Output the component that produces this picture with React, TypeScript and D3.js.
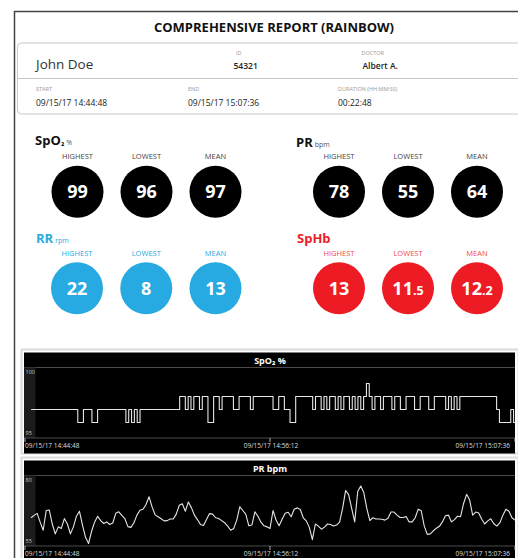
import React from "react";
import * as d3 from "d3";

// stat tiles
const statLabels = ["HIGHEST", "LOWEST", "MEAN"];
const spo2Stats = ["99", "96", "97"];
const prStats = ["78", "55", "64"];
const rrStats = ["22", "8", "13"];
const sphbStats = ["13", "11.5", "12.2"];

// header
const patientName = "John Doe";
const patientId = "54321";
const doctorName = "Albert A.";
const startTime = "09/15/17 14:44:48";
const endTime = "09/15/17 15:07:36";
const durationText = "00:22:48";

// trend charts
const durationSec = 1368;
const timeTickLabels = ["09/15/17 14:44:48", "09/15/17 14:56:12", "09/15/17 15:07:36"];
const timeTickSec = [0, 684, 1368];
const firstSampleSec = 17;

const spo2Domain = [95, 100];
const spo2Values = [
  97, 97, 97, 97, 97, 97, 97, 97, 97, 97, 97, 97, 97, 97, 97, 97, 97,
  96, 96, 97, 97, 97, 96, 96,
  97, 97, 97, 97, 97, 97, 97, 97, 97, 97,
  96, 97, 96, 97, 96,
  97, 97, 97, 97, 97, 97, 97, 97, 97, 97, 97, 97, 97, 97,
  98, 98, 97, 98, 97, 98, 98, 97, 98, 98, 96, 96, 98, 98, 97,
  98, 98, 98, 98, 97, 97, 98, 98, 98, 98, 97,
  98, 98, 98, 98, 98, 98, 98, 97, 97, 98, 98, 97, 97, 96, 96,
  98, 98, 98, 98, 98,
  98, 97, 98, 98, 97, 98, 97, 98, 98, 97, 98, 97, 98, 98, 97, 98, 97, 98, 97, 98,
  99,
  98, 97, 98, 98, 97, 98, 98, 98, 97, 98, 98, 97, 97, 98, 98, 98, 97, 97, 98, 98,
  98, 97, 97, 98, 98, 98, 98, 97, 98, 97, 98, 97, 98,
  98, 98, 98, 98, 98, 98, 98, 98, 98, 98, 98, 98,
  97, 96, 96, 96, 96, 97, 96,
];

const prDomain = [55, 80];
const prValues = [
  64.9, 65.8, 66.6, 63.2, 60.1, 67.7, 67.9, 62.5, 58.7, 61.4,
  60.8, 64.6, 62.5, 58.7, 61.4, 65.5, 67.4, 62.1, 57.4, 55.0,
  59.7, 63.2, 65.5, 63.8, 62.7, 63.3, 62.3, 62.9, 66.6, 67.2,
  65.8, 64.6, 61.5, 61.2, 63.0, 65.9, 67.8, 68.2, 70.0, 73.0,
  69.1, 66.0, 65.3, 64.5, 63.7, 63.8, 64.4, 64.4, 66.3, 69.7,
  70.3, 67.4, 71.0, 68.8, 65.9, 64.2, 62.3, 61.9, 64.2, 66.5,
  66.3, 64.9, 64.6, 63.8, 63.0, 61.7, 60.1, 60.8, 64.0, 69.1,
  67.7, 66.2, 61.8, 62.1, 67.2, 65.5, 63.2, 61.8, 61.4, 60.8,
  67.7, 64.0, 61.8, 64.3, 66.6, 67.0, 65.3, 68.2, 68.7, 68.1,
  64.9, 63.7, 61.2, 56.5, 62.5, 61.7, 60.5, 61.3, 62.5, 62.3,
  61.7, 62.1, 63.2, 68.5, 75.4, 73.8, 68.5, 63.3, 75.0, 77.1,
  74.6, 68.5, 63.8, 64.9, 64.4, 64.4, 64.3, 64.0, 64.7, 67.1,
  67.1, 65.9, 65.0, 65.0, 65.4, 63.3, 63.3, 64.9, 68.2, 67.6,
  61.7, 58.5, 58.7, 59.9, 60.9, 61.6, 63.3, 65.7, 65.9, 63.3,
  64.2, 65.5, 65.3, 70.4, 73.9, 71.7, 65.9, 67.1, 66.7, 64.3,
  62.5, 63.7, 64.5, 62.6, 61.7, 63.0, 65.9, 68.2, 67.4, 64.9,
  64.0,
];

const FONT = "'Open Sans', 'Noto Sans', sans-serif";
const BLUE = "#27aae1";
const RED = "#ed1c24";

type Group = {
  title: string;
  sub?: string;
  unit: string;
  stats: string[];
  color: string;
  labelColor: string;
  titleX: number;
  titleY: number;
  labelY: number;
  cy: number;
  xs: [number, number];
};

const groups: Group[] = [
  { title: "SpO", sub: "₂", unit: "%", stats: spo2Stats, color: "#000", labelColor: "#444", titleX: 35, titleY: 145, labelY: 159, cy: 191.7, xs: [77.5, 215.5] },
  { title: "PR", unit: "bpm", stats: prStats, color: "#000", labelColor: "#444", titleX: 296, titleY: 146.5, labelY: 159, cy: 191.7, xs: [339, 477] },
  { title: "RR", unit: "rpm", stats: rrStats, color: BLUE, labelColor: BLUE, titleX: 36, titleY: 243, labelY: 256, cy: 288.3, xs: [77, 215.5] },
  { title: "SpHb", unit: "", stats: sphbStats, color: RED, labelColor: "#ef4a50", titleX: 297, titleY: 243, labelY: 256, cy: 288.3, xs: [339, 477] },
];

const StatGroup = ({ g }: { g: Group }) => {
  const x = d3.scalePoint<string>().domain(statLabels).range(g.xs);
  return (
    <g fontFamily={FONT}>
      <text x={g.titleX} y={g.titleY} fill={g.color === "#000" ? "#111" : g.color} fontWeight="bold" fontSize={13}>
        {g.title}
        {g.sub && <tspan fontSize={8} dx={0.5}>{g.sub}</tspan>}
        {g.unit && (
          <tspan fontSize={7} fontWeight="normal" fill={g.color === "#000" ? "#555" : g.color} dx={2}>
            {g.unit}
          </tspan>
        )}
      </text>
      {statLabels.map((lab, i) => {
        const v = g.stats[i];
        const [whole, dec] = v.split(".");
        return (
          <g key={lab}>
            <text x={x(lab)} y={g.labelY} textAnchor="middle" fontSize={7.5} fill={g.labelColor}>
              {lab}
            </text>
            <circle cx={x(lab)} cy={g.cy} r={26} fill={g.color} />
            <text x={x(lab)} y={g.cy + 6.5} textAnchor="middle" fontSize={18} fontWeight="bold" fill="#fff">
              {whole}
              {dec && <tspan fontSize={12.5}>{"." + dec}</tspan>}
            </text>
          </g>
        );
      })}
    </g>
  );
};

type Panel = {
  title: string;
  top: number;
  values: number[];
  domain: number[];
  curve: d3.CurveFactory;
};

const panels: Panel[] = [
  { title: "SpO₂ %", top: 352.5, values: spo2Values, domain: spo2Domain, curve: d3.curveStep },
  { title: "PR bpm", top: 460.5, values: prValues, domain: prDomain, curve: d3.curveLinear },
];

const TrendPanel = ({ p }: { p: Panel }) => {
  const sep = p.top + 15;
  const bottom = p.top + 85.5;
  const x = d3.scaleLinear().domain([0, durationSec]).range([25, 515]);
  const y = d3.scaleLinear().domain(p.domain).range([bottom - 2.5, sep + 3]);
  const step = (durationSec - firstSampleSec) / (p.values.length - 1);
  const line = d3
    .line<number>()
    .x((d, i) => x(firstSampleSec + i * step))
    .y((d) => y(d))
    .curve(p.curve);
  return (
    <g fontFamily={FONT}>
      <rect x={21.5} y={p.top - 3} width={497} height={104} fill="none" stroke="#dadada" strokeWidth={2} />
      <rect x={24} y={p.top} width={491} height={101} fill="#000" />
      <text x={270} y={p.top + 11} textAnchor="middle" fill="#fff" fontSize={9} fontWeight="bold">
        {p.title}
      </text>
      <line x1={24} x2={515} y1={sep} y2={sep} stroke="#4a4a4a" />
      <rect x={24} y={sep} width={11.5} height={bottom - sep} fill="#1b1b1b" />
      <line x1={24} x2={515} y1={bottom} y2={bottom} stroke="#4a4a4a" />
      <text x={25.5} y={y(p.domain[1]) + 3} fontSize={5.5} fill="#c8c8c8">
        {p.domain[1]}
      </text>
      <text x={25.5} y={y(p.domain[0]) - 1} fontSize={5.5} fill="#c8c8c8">
        {p.domain[0]}
      </text>
      <path d={line(p.values) || ""} fill="none" stroke="#e6e6e6" strokeWidth={1.1} strokeLinejoin="round" />
      {timeTickSec.map((t, i) => (
        <g key={t}>
          <line x1={x(t)} x2={x(t)} y1={bottom} y2={bottom + 4} stroke="#ddd" strokeWidth={0.8} />
          <text
            x={i === 0 ? x(t) : i === 1 ? x(t) + 1 : x(t) - 5}
            y={p.top + 95.5}
            fontSize={6.5}
            fill="#ddd"
            textAnchor={i === 0 ? "start" : i === 1 ? "middle" : "end"}
          >
            {timeTickLabels[i]}
          </text>
        </g>
      ))}
    </g>
  );
};

const App = () => {
  return (
    <svg width={518} height={558} style={{ position: "absolute", left: 0, top: 0, background: "#fff" }}>
      <line x1={14.5} x2={14.5} y1={11} y2={558} stroke="#444" strokeWidth={1.5} />
      <line x1={14} x2={518} y1={11.5} y2={11.5} stroke="#444" strokeWidth={1.5} />
      <text x={274} y={31.5} textAnchor="middle" fontFamily={FONT} fontWeight="bold" fontSize={13} fill="#111">
        COMPREHENSIVE REPORT (RAINBOW)
      </text>

      <g fontFamily={FONT}>
        <rect x={17.5} y={43} width={530} height={71} rx={4} fill="none" stroke="#c8c8c8" />
        <line x1={17.5} x2={518} y1={78.5} y2={78.5} stroke="#c8c8c8" />
        <text x={36} y={69} fontSize={13.5} fill="#333">{patientName}</text>
        <text x={236} y={54.5} fontSize={5.5} fill="#999">ID</text>
        <text x={233.5} y={69.3} fontSize={8.5} fill="#222" fontWeight={600}>{patientId}</text>
        <text x={361.5} y={54.5} fontSize={5.5} fill="#999">DOCTOR</text>
        <text x={362.5} y={69.3} fontSize={8.5} fill="#222" fontWeight={600}>{doctorName}</text>
        <text x={36} y={90.7} fontSize={5.5} fill="#999">START</text>
        <text x={36} y={106} fontSize={8.5} fill="#222">{startTime}</text>
        <text x={188} y={90.7} fontSize={5.5} fill="#999">END</text>
        <text x={188} y={106} fontSize={8.5} fill="#222">{endTime}</text>
        <text x={338} y={90.7} fontSize={5.5} fill="#999">DURATION (HH:MM:SS)</text>
        <text x={338} y={106} fontSize={8.5} fill="#222">{durationText}</text>
      </g>

      {groups.map((g) => (
        <StatGroup key={g.title} g={g} />
      ))}

      {panels.map((p) => (
        <TrendPanel key={p.title} p={p} />
      ))}
    </svg>
  );
};

export default App;
